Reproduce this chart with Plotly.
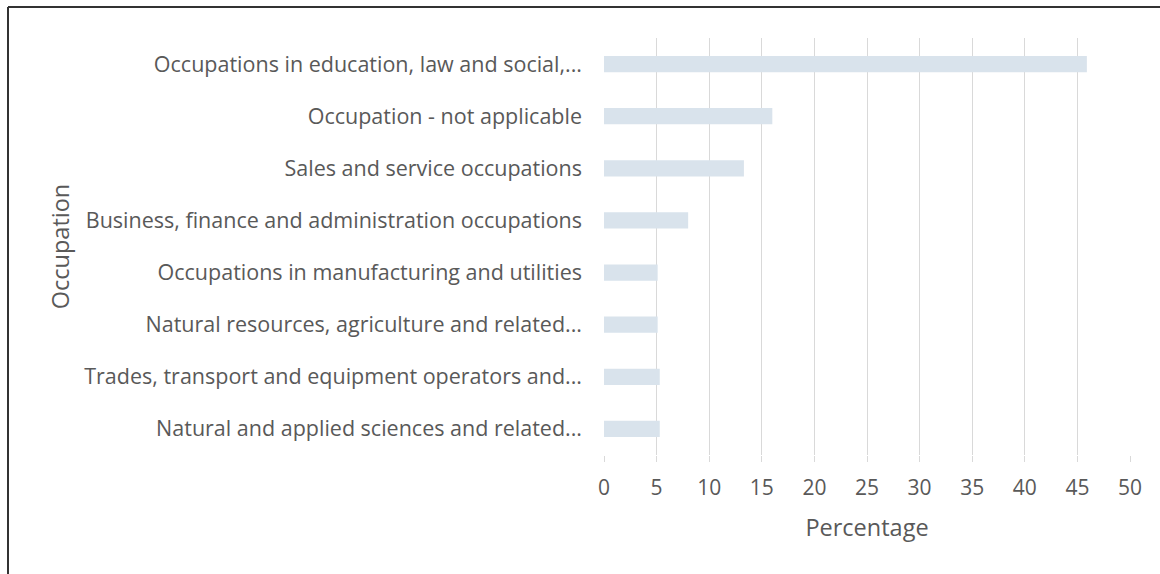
import plotly.graph_objects as go

categories = [
    "Occupations in education, law and social,...",
    "Occupation - not applicable",
    "Sales and service occupations",
    "Business, finance and administration occupations",
    "Occupations in manufacturing and utilities",
    "Natural resources, agriculture and related...",
    "Trades, transport and equipment operators and...",
    "Natural and applied sciences and related...",
]
percentages = [45.9, 16.0, 13.3, 8.0, 5.1, 5.1, 5.3, 5.3]
x_ticks = [0, 5, 10, 15, 20, 25, 30, 35, 40, 45, 50]

W, H = 1160, 574
L, R, T, B = 604, 30, 38, 119
pw, ph = W - L - R, H - T - B

fig = go.Figure(go.Bar(
    x=percentages, y=categories, orientation="h",
    marker=dict(color="#d9e3ec", line=dict(width=0)),
    width=0.31,
))

font = dict(family="Open Sans, Noto Sans, sans-serif", color="#595959")

fig.update_layout(
    width=W, height=H,
    margin=dict(l=L, r=R, t=T, b=B, autoexpand=False),
    paper_bgcolor="white", plot_bgcolor="white",
    showlegend=False,
    font=dict(**font, size=21),
    xaxis=dict(
        range=[0, 50], tickvals=x_ticks, ticktext=[str(v) for v in x_ticks],
        showgrid=True, gridcolor="#d9d9d9", gridwidth=1,
        zeroline=False, showline=False,
        ticks="outside", ticklen=6, tickcolor="#d9d9d9",
        ticklabelstandoff=8,
        tickfont=dict(**font, size=21),
        title=dict(text="Percentage", font=dict(**font, size=23.5), standoff=19),
        automargin=False,
    ),
    yaxis=dict(
        categoryorder="array", categoryarray=categories,
        autorange="reversed",
        showgrid=False, zeroline=False, showline=False,
        ticks="", ticklabelstandoff=21,
        tickfont=dict(**font, size=21.5),
        title=dict(text="Occupation", font=dict(**font, size=23.5), standoff=8),
        automargin=False,
    ),
    shapes=[
        dict(type="line", xref="paper", yref="paper",
             x0=(8 - L) / pw, x1=(W - L) / pw,
             y0=1 + (T - 7) / ph, y1=1 + (T - 7) / ph,
             line=dict(color="#333333", width=2)),
        dict(type="line", xref="paper", yref="paper",
             x0=(8 - L) / pw, x1=(8 - L) / pw,
             y0=1 + (T - 7) / ph, y1=-(B) / ph,
             line=dict(color="#333333", width=2)),
    ],
)

fig.write_html("out.html")
